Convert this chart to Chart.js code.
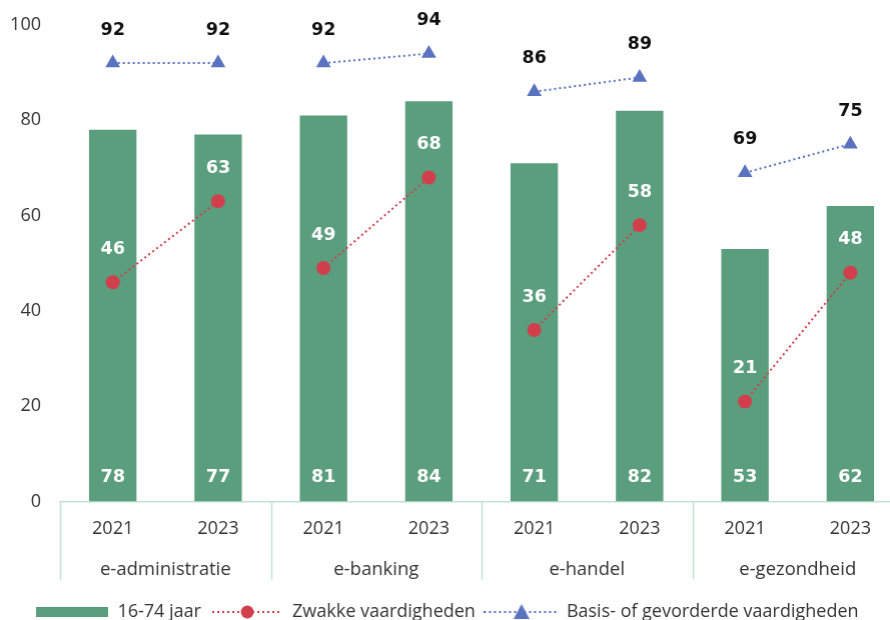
<!DOCTYPE html>
<html>
<head>
<meta charset="utf-8">
<script src="https://cdn.jsdelivr.net/npm/chart.js@4.4.1/dist/chart.umd.min.js"></script>
<style>
  html, body { margin: 0; padding: 0; overflow: hidden; background: #fff; }
  #wrap { position: absolute; left: 0; top: 0; width: 910.5px; height: 620px; }
</style>
</head>
<body>
<div id="wrap"><canvas id="myChart"></canvas></div>
<script>
// gegevens
var years = ["2021", "2023", "2021", "2023", "2021", "2023", "2021", "2023"];
var groups = ["e-administratie", "e-banking", "e-handel", "e-gezondheid"];
var alle = [78, 77, 81, 84, 71, 82, 53, 62];
var zwak = [46, 63, 49, 68, 36, 58, 21, 48];
var basis = [92, 92, 92, 94, 86, 89, 69, 75];
var yTicks = [0, 20, 40, 60, 80, 100];
var seriesNames = ["16-74 jaar", "Zwakke vaardigheden", "Basis- of gevorderde vaardigheden"];

var green = "#5a9e7e";
var red = "#d13f4d";
var blue = "#5a72c0";
var lineGreen = "#c3e2d3";
var font = "'Open Sans', 'Liberation Sans', sans-serif";
var boldFont = "'DejaVu Sans', 'Liberation Sans', sans-serif";

// kleine canvasjes voor de legenda
function legendIcon(kind, w) {
    var c = document.createElement("canvas");
    c.width = w; c.height = 18;
    var g = c.getContext("2d");
    if (kind === "bar") {
        g.fillStyle = green;
        g.fillRect(0, 4, w, 10);
    } else {
        var col = kind === "red" ? red : blue;
        g.strokeStyle = col;
        g.lineWidth = 2;
        g.setLineDash([2, 3]);
        g.beginPath(); g.moveTo(0, 9); g.lineTo(w, 9); g.stroke();
        g.fillStyle = col;
        g.beginPath();
        if (kind === "red") {
            g.arc(w / 2, 9, 6.5, 0, Math.PI * 2);
        } else {
            g.moveTo(w / 2, 1); g.lineTo(w / 2 + 8, 16); g.lineTo(w / 2 - 8, 16); g.closePath();
        }
        g.fill();
    }
    return c;
}
var icons = [legendIcon("bar", 72), legendIcon("red", 70), legendIcon("blue", 75)];

function hideBetweenGroups(col) {
    return function (c) { return c.p0DataIndex % 2 === 1 ? "rgba(0,0,0,0)" : col; };
}

// labels en scheidingslijnen onder de as
var groupAxis = {
    id: "groupAxis",
    afterLayout: function (chart) {
        // legenda iets naar links, zoals in het origineel
        chart.legend.left -= 4;
        chart.legend.right -= 4;
    },
    afterDraw: function (chart) {
        var x = chart.scales.x, area = chart.chartArea, c = chart.ctx;
        var step = x.getPixelForValue(1) - x.getPixelForValue(0);
        c.save();
        c.strokeStyle = lineGreen;
        c.lineWidth = 1.5;
        for (var i = 0; i <= groups.length; i++) {
            var px = Math.round(x.getPixelForValue(i * 2) - step / 2) + 0.5;
            c.beginPath(); c.moveTo(px, area.bottom); c.lineTo(px, area.bottom + 78); c.stroke();
        }
        c.fillStyle = "#333";
        c.font = "18.5px " + font;
        c.textAlign = "center";
        c.textBaseline = "middle";
        groups.forEach(function (g, i) {
            var mid = (x.getPixelForValue(i * 2) + x.getPixelForValue(i * 2 + 1)) / 2;
            c.fillText(g, mid, area.bottom + 68);
        });
        c.restore();
    }
};

// waardelabels
var valueLabels = {
    id: "valueLabels",
    afterDatasetsDraw: function (chart) {
        var c = chart.ctx, y = chart.scales.y;
        c.save();
        c.font = "bold 17.5px " + boldFont;
        c.textAlign = "center";
        c.textBaseline = "middle";
        chart.data.datasets.forEach(function (ds, di) {
            var meta = chart.getDatasetMeta(di);
            meta.data.forEach(function (el, i) {
                if (di === 0) {
                    c.fillStyle = "#fff";
                    c.fillText(ds.data[i], el.x, y.getPixelForValue(0) - 24);
                } else {
                    c.fillStyle = di === 1 ? "#fff" : "#111";
                    c.fillText(ds.data[i], el.x, el.y - 33);
                }
            });
        });
        c.restore();
    }
};

var ctx = document.getElementById("myChart");
var chart = new Chart(ctx, {
    data: {
        labels: years,
        datasets: [{
            type: "bar",
            label: seriesNames[0],
            data: alle,
            backgroundColor: green,
            barPercentage: 0.45,
            categoryPercentage: 1,
            order: 3
        }, {
            type: "line",
            label: seriesNames[1],
            data: zwak,
            borderColor: red,
            borderWidth: 2,
            borderDash: [2, 3],
            pointStyle: "circle",
            pointRadius: 7,
            pointBackgroundColor: red,
            pointBorderWidth: 0,
            segment: { borderColor: hideBetweenGroups(red) },
            order: 2
        }, {
            type: "line",
            label: seriesNames[2],
            data: basis,
            borderColor: blue,
            borderWidth: 2,
            borderDash: [2, 3],
            pointStyle: "triangle",
            pointRadius: 8.5,
            pointBackgroundColor: blue,
            pointBorderWidth: 0,
            segment: { borderColor: hideBetweenGroups(blue) },
            order: 1
        }]
    },
    options: {
        responsive: true,
        maintainAspectRatio: false,
        animation: false,
        layout: { padding: { top: 25, right: 8.5, left: 0, bottom: -11 } },
        scales: {
            x: {
                grid: { display: false, drawTicks: false },
                border: { display: true, color: lineGreen, width: 1.5 },
                ticks: { color: "#333", font: { family: font, size: 18 }, padding: 17, maxRotation: 0 },
                afterFit: function (s) { s.height = 91.5; s.paddingLeft = 0; s.paddingRight = 0; }
            },
            y: {
                min: 0,
                max: 100,
                afterBuildTicks: function (s) { s.ticks = yTicks.map(function (v) { return { value: v }; }); },
                grid: { display: false, drawTicks: false },
                border: { display: false },
                ticks: { color: "#333", font: { family: font, size: 18 }, padding: 19 },
                afterFit: function (s) { s.width = 60; s.paddingTop = 0; s.paddingBottom = 0; }
            }
        },
        plugins: {
            tooltip: { enabled: false },
            legend: {
                position: "bottom",
                labels: {
                    usePointStyle: true,
                    pointStyleWidth: 72,
                    color: "#333",
                    font: { family: font, size: 18 },
                    padding: 10,
                    generateLabels: function (chart) {
                        return seriesNames.map(function (n, i) {
                            return { text: n, pointStyle: icons[i], datasetIndex: i, fontColor: "#333",
                                fillStyle: "rgba(0,0,0,0)", strokeStyle: "rgba(0,0,0,0)", lineWidth: 0, hidden: false };
                        });
                    }
                }
            }
        }
    },
    plugins: [groupAxis, valueLabels]
});
</script>
</body>
</html>
